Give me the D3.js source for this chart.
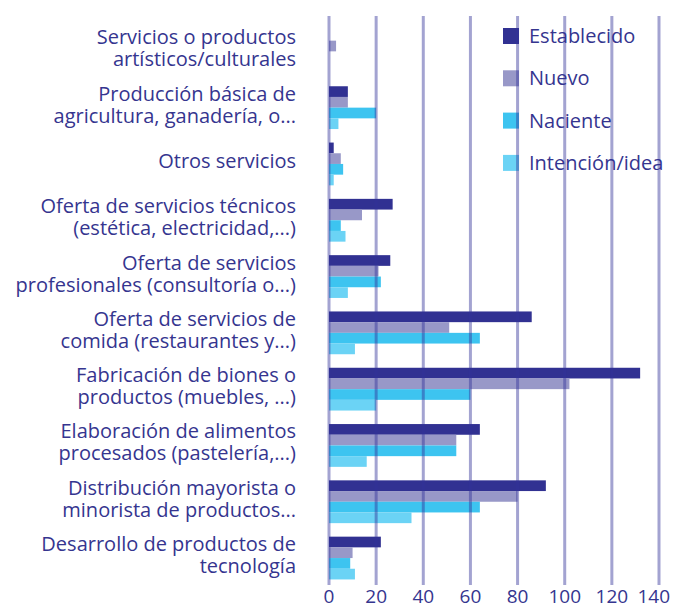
<!DOCTYPE html>
<html>
<head>
<meta charset="utf-8">
<script src="https://cdn.jsdelivr.net/npm/d3@7"></script>
<style>
    body { margin: 0; background: #fff; }
    svg { display: block; font-family: "Open Sans", sans-serif; }
</style>
</head>
<body>
<svg id="vis-svg"></svg>
<script>
// Categories, top to bottom (each entry is the wrapped label lines)
const categories = [
    ["Servicios o productos", "artísticos/culturales"],
    ["Producción básica de", "agricultura, ganadería, o..."],
    ["Otros servicios"],
    ["Oferta de servicios técnicos", "(estética, electricidad,...)"],
    ["Oferta de servicios", "profesionales (consultoría o...)"],
    ["Oferta de servicios de", "comida (restaurantes y...)"],
    ["Fabricación de biones o", "productos (muebles, ...)"],
    ["Elaboración de alimentos", "procesados (pastelería,...)"],
    ["Distribución mayorista o", "minorista de productos..."],
    ["Desarrollo de productos de", "tecnología"]
];

const seriesNames = ["Establecido", "Nuevo", "Naciente", "Intención/idea"];
const seriesColors = ["#313192", "#9898c8", "#3dc4f0", "#6bd3f5"];

// values per category, same order as categories
const establecido = [0, 8, 2, 27, 26, 86, 132, 64, 92, 22];
const nuevo       = [3, 8, 5, 14, 21, 51, 102, 54, 80, 10];
const naciente    = [0, 20, 6, 5, 22, 64, 60, 54, 64, 9];
const intencion   = [0, 4, 2, 7, 8, 11, 20, 16, 35, 11];

const xTicks = [0, 20, 40, 60, 80, 100, 120, 140];

const width = 673, height = 609;
const textColor = "#35358f";

const svg = d3.select("#vis-svg")
    .attr("width", width)
    .attr("height", height);

// Scales
const x = d3.scaleLinear().domain([0, 140]).range([329, 659]);

const y = d3.scaleBand()
    .domain(d3.range(categories.length))
    .range([23.2, 586.2])
    .paddingInner(0.24)
    .paddingOuter(0.12);

const ySub = d3.scaleBand()
    .domain(d3.range(seriesNames.length))
    .range([0, y.bandwidth()]);

const series = [establecido, nuevo, naciente, intencion];

// Bars
series.forEach(function (vals, s) {
    svg.append("g")
        .selectAll("rect")
        .data(vals)
        .enter().append("rect")
        .attr("x", x(0))
        .attr("y", (d, i) => y(i) + ySub(s))
        .attr("width", d => x(d) - x(0))
        .attr("height", ySub.bandwidth())
        .attr("fill", seriesColors[s]);
});

// Category labels
const labels = svg.append("g")
    .selectAll("text")
    .data(categories)
    .enter().append("text")
    .attr("text-anchor", "end")
    .attr("fill", textColor)
    .style("font-size", "20px");

labels.each(function (lines, i) {
    const cy = y(i) + y.bandwidth() / 2;
    const lh = 22;
    const t = d3.select(this);
    lines.forEach(function (line, k) {
        t.append("tspan")
            .attr("x", 296)
            .attr("y", cy + (k - (lines.length - 1) / 2) * lh + 4)
            .text(line);
    });
});

// Legend
const legend = svg.append("g")
    .selectAll("g")
    .data(seriesNames)
    .enter().append("g")
    .attr("transform", (d, i) => "translate(503," + (28 + i * 42.3) + ")");

legend.append("rect")
    .attr("width", 16)
    .attr("height", 16)
    .attr("fill", (d, i) => seriesColors[i]);

legend.append("text")
    .attr("x", 26)
    .attr("y", 15)
    .attr("fill", textColor)
    .style("font-size", "20px")
    .text(d => d);

// Vertical gridlines, drawn over the bars
svg.append("g")
    .selectAll("line")
    .data(xTicks)
    .enter().append("line")
    .attr("x1", d => x(d))
    .attr("x2", d => x(d))
    .attr("y1", 16)
    .attr("y2", 585)
    .attr("stroke", "#34349a")
    .attr("stroke-opacity", 0.45)
    .attr("stroke-width", 3);

// x axis tick labels (kept inside the right edge)
svg.append("g")
    .selectAll("text")
    .data(xTicks)
    .enter().append("text")
    .attr("y", 603)
    .attr("text-anchor", "middle")
    .attr("fill", textColor)
    .style("font-size", "19px")
    .text(d => d)
    .attr("x", function (d) {
        const half = this.getComputedTextLength() / 2;
        return Math.min(x(d), width - 3 - half);
    });
</script>
</body>
</html>
